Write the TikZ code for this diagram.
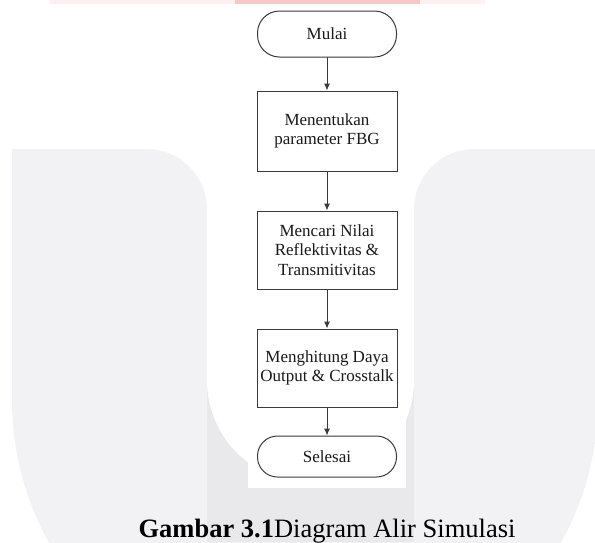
\documentclass[tikz,border=0pt]{standalone}
\usepackage{fontspec}
\setmainfont{Liberation Serif}
\usetikzlibrary{arrows.meta}
\definecolor{wmgray}{HTML}{F2F2F4}
\definecolor{wmdark}{HTML}{E9E9EB}
\definecolor{wmpink}{HTML}{FDF0F0}
\definecolor{wmred}{HTML}{F8C8C8}
\definecolor{garis}{HTML}{3A3A3A}
\begin{document}
\begin{tikzpicture}[
	x=1pt,y=-1pt,
	>={Latex[length=7pt,width=6pt]},
	line width=1pt,
	line cap=round,
	line join=round,
	terminal/.style={draw=garis,fill=white,rounded corners=22pt,inner sep=0pt,
		minimum width=139pt,font=\fontsize{17}{19.5}\selectfont,text=black!90},
	proses/.style={draw=garis,fill=white,inner sep=0pt,line cap=butt,line join=miter,
		minimum width=140pt,align=center,font=\fontsize{17}{19.5}\selectfont,text=black!90}
	]
	\useasboundingbox (0,0) rectangle (595,542);
	% watermark
	\fill[wmpink] (50,0) rectangle (485,4);
	\fill[wmred] (235,0) rectangle (420,4);
	\fill[wmgray] (12,149) -- (12,400) arc[start angle=180,end angle=0,radius=293] -- (598,149) -- cycle;
	\fill[wmdark] (207,380) rectangle (414,542);
	\fill[white] (147,149) arc[start angle=270,end angle=360,radius=60] -- (207,380)
		arc[start angle=180,end angle=0,radius=103.5] -- (414,209)
		arc[start angle=180,end angle=270,radius=60] -- cycle;
	\fill[white] (248,4) rectangle (406,488);
	% diagram alir
	\node[terminal,minimum height=46pt] (mulai) at (327,34) {Mulai};
	\node[proses,minimum height=80pt] (tentukan) at (327,131) {Menentukan\\parameter FBG};
	\node[proses,minimum height=78pt] (cari) at (327,250) {Mencari Nilai\\Reflektivitas \&\\Transmitivitas};
	\node[proses,minimum height=78pt] (hitung) at (327,368) {Menghitung Daya\\Output \& Crosstalk};
	\node[terminal,minimum height=41pt,rounded corners=20pt] (selesai) at (327,456.5) {Selesai};
	\begin{scope}[->,draw=garis]
		\draw (mulai) -- (tentukan);
		\draw (tentukan) -- (cari);
		\draw (cari) -- (hitung);
		\draw (hitung) -- (selesai);
	\end{scope}
	\node[anchor=base,font=\fontsize{26.5}{30}\selectfont] (judul) at (327,537) {\textbf{Gambar 3.1}Diagram Alir Simulasi};
\end{tikzpicture}
\end{document}
